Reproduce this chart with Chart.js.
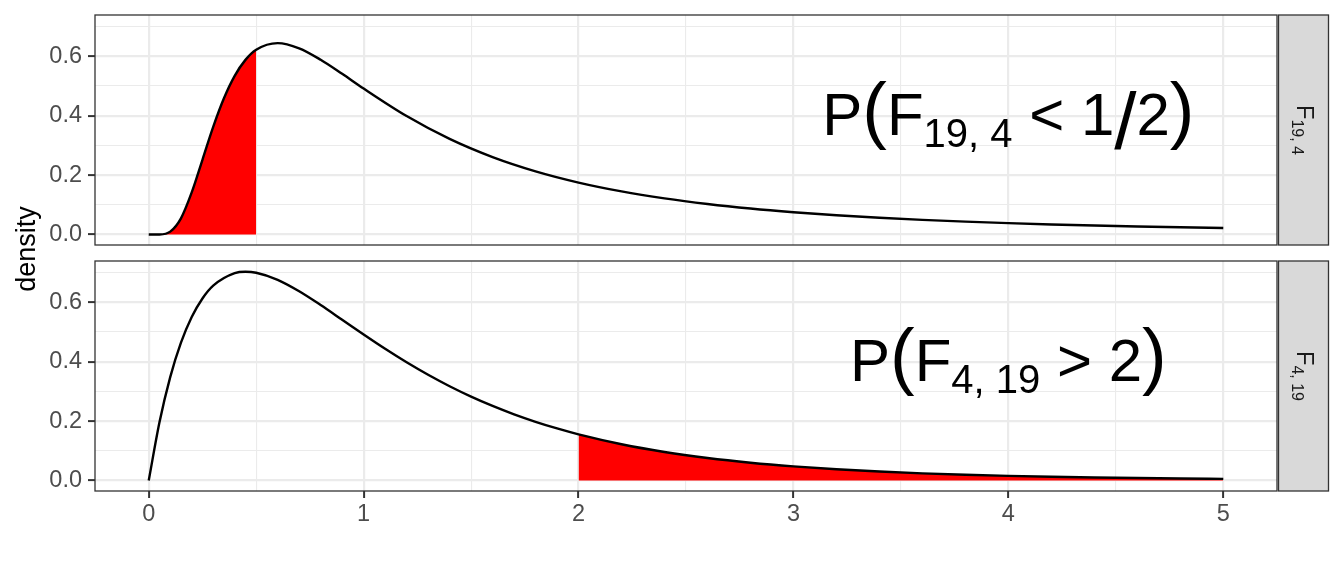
<!DOCTYPE html>
<html>
<head>
<meta charset="utf-8">
<script src="https://cdn.jsdelivr.net/npm/chart.js@4"></script>
<style>
  body { margin: 0; background: #fff; }
  #wrap { position: relative; width: 1344px; height: 576px; overflow: hidden; }
  .pane { position: absolute; left: 0; width: 1344px; }
  #ylab {
    position: absolute; left: -74px; top: 234px; width: 200px; height: 30px;
    line-height: 30px; text-align: center; transform: rotate(-90deg);
    font: 27px "Liberation Sans", Arial, sans-serif; color: #000;
  }
</style>
</head>
<body>
<div id="wrap">
  <div class="pane" style="top:0;height:250px"><canvas id="topChart" width="1344" height="250"></canvas></div>
  <div class="pane" style="top:250px;height:326px"><canvas id="botChart" width="1344" height="326"></canvas></div>
  <div id="ylab">density</div>
</div>
<script>
// axis ticks
const xTicks = [0, 1, 2, 3, 4, 5];
const xGrid = [0, 0.5, 1, 1.5, 2, 2.5, 3, 3.5, 4, 4.5, 5];
const yTicks = [0, 0.2, 0.4, 0.6];
const yGrid = [0, 0.1, 0.2, 0.3, 0.4, 0.5, 0.6, 0.7];

// F(19, 4) density
const topX = [0, 0.05, 0.1, 0.15, 0.2, 0.25, 0.3, 0.35, 0.4, 0.45, 0.5, 0.6, 0.7, 0.8, 0.9, 1.0,
  1.2, 1.4, 1.6, 1.8, 2.0, 2.2, 2.4, 2.6, 2.8, 3.0, 3.2, 3.4, 3.6, 3.8, 4.0, 4.2, 4.4, 4.6, 4.8, 5.0];
const topY = [0, 0.0002, 0.0097, 0.0546, 0.1416, 0.2516, 0.3622, 0.4584, 0.5339, 0.5877, 0.6218, 0.6442, 0.6267, 0.5882, 0.5408, 0.4913,
  0.3987, 0.3217, 0.2605, 0.2125, 0.1748, 0.1451, 0.1216, 0.1028, 0.0875, 0.0751, 0.0648, 0.0564, 0.0493, 0.0433, 0.0383, 0.0340, 0.0303, 0.0272, 0.0244, 0.0220];

// F(4, 19) density, bottom panel
const botX = [0, 0.05, 0.1, 0.15, 0.2, 0.25, 0.3, 0.4, 0.45, 0.5, 0.6, 0.7, 0.8, 0.9, 1.0, 1.1, 1.2, 1.3, 1.4, 1.5, 1.6, 1.7, 1.8, 1.9, 2.0,
  2.2, 2.4, 2.6, 2.8, 3.0, 3.2, 3.4, 3.6, 3.8, 4.0, 4.2, 4.4, 4.6, 4.8, 5.0];
const botY = [0, 0.1960, 0.3479, 0.4638, 0.5503, 0.6127, 0.6558, 0.6979, 0.7026, 0.6992, 0.6754, 0.6369, 0.5905, 0.5410, 0.4913, 0.4432, 0.3978, 0.3558, 0.3173, 0.2824, 0.2510, 0.2228, 0.1977, 0.1753, 0.1554,
  0.1222, 0.0962, 0.0759, 0.0600, 0.0476, 0.0379, 0.0302, 0.0242, 0.0195, 0.0157, 0.0127, 0.0103, 0.0084, 0.0069, 0.0057];

// shaded ranges
const topShade = [0, 0.5];
const botShade = [2, 5];

// labels: [text, role]
const topStrip = [['F', 'm'], ['19, 4', 's']];
const botStrip = [['F', 'm'], ['4, 19', 's']];
const topNote = [['P', 'm'], ['(', 'd'], ['F', 'm'], ['19, 4', 's'], [' < 1', 'm'], ['/', 'sl'], ['2', 'm'], [')', 'd']];
const botNote = [['P', 'm'], ['(', 'd'], ['F', 'm'], ['4, 19', 's'], [' > 2', 'm'], [')', 'd']];
const notePos = [4, 0.4];

const FONT = '"Liberation Sans", Arial, sans-serif';

function drawRun(ctx, parts, styles, color) {
  let total = 0;
  const w = parts.map(([t, r]) => {
    ctx.font = styles[r].size + 'px ' + FONT;
    const m = ctx.measureText(t).width;
    total += m;
    return m;
  });
  let x = -total / 2;
  ctx.fillStyle = color;
  ctx.textBaseline = 'alphabetic';
  ctx.textAlign = 'left';
  parts.forEach(([t, r], i) => {
    ctx.font = styles[r].size + 'px ' + FONT;
    ctx.fillText(t, x, styles[r].dy || 0);
    x += w[i];
  });
}

const facetPlugin = {
  id: 'facet',
  afterDraw(chart, args, opts) {
    const { ctx, chartArea: a, scales } = chart;
    ctx.save();
    // annotation
    ctx.save();
    ctx.translate(scales.x.getPixelForValue(notePos[0]), scales.y.getPixelForValue(notePos[1]) + 19);
    drawRun(ctx, opts.note, {
      m: { size: 60 }, s: { size: 40, dy: 12 }, d: { size: 74 }, sl: { size: 80, dy: 14 }
    }, '#000');
    ctx.restore();
    // panel border
    ctx.strokeStyle = '#333333';
    ctx.lineWidth = 1.3;
    ctx.strokeRect(a.left, a.top, a.right - a.left, a.bottom - a.top);
    // strip
    const sx = a.right + 1.5, sw = 50;
    ctx.fillStyle = '#D9D9D9';
    ctx.fillRect(sx, a.top, sw, a.bottom - a.top);
    ctx.strokeRect(sx, a.top, sw, a.bottom - a.top);
    ctx.translate(sx + sw / 2, (a.top + a.bottom) / 2);
    ctx.rotate(Math.PI / 2);
    ctx.translate(0, 7);
    drawRun(ctx, opts.strip, { m: { size: 23.5 }, s: { size: 16, dy: 5 } }, '#1A1A1A');
    ctx.restore();
  }
};

function makePanel(id, xs, ys, shade, strip, note, showX, pad, xHeight) {
  const pts = xs.map((x, i) => ({ x: x, y: ys[i] }));
  const shaded = pts.filter(p => p.x >= shade[0] && p.x <= shade[1]);
  const major = v => xTicks.includes(v);
  return new Chart(document.getElementById(id), {
    type: 'line',
    data: {
      datasets: [
        { data: pts, borderColor: '#000', borderWidth: 2.4, pointRadius: 0, fill: false,
          cubicInterpolationMode: 'monotone', order: 0 },
        { data: shaded, borderColor: 'rgba(0,0,0,0)', borderWidth: 0, pointRadius: 0,
          backgroundColor: '#FF0000', fill: 'origin', cubicInterpolationMode: 'monotone', order: 1 }
      ]
    },
    options: {
      responsive: false,
      animation: false,
      devicePixelRatio: 1,
      layout: { autoPadding: false, padding: pad },
      plugins: { legend: { display: false }, tooltip: { enabled: false }, facet: { strip: strip, note: note } },
      scales: {
        x: {
          type: 'linear', min: -0.25, max: 5.25,
          afterBuildTicks: s => { s.ticks = xGrid.map(v => ({ value: v })); },
          afterFit: s => { s.height = xHeight; s.paddingLeft = 0; s.paddingRight = 0; },
          border: { display: false },
          grid: {
            color: '#EBEBEB',
            lineWidth: c => major(c.tick.value) ? 2.2 : 1.1,
            drawTicks: showX, tickLength: 7, tickWidth: 2,
            tickColor: c => major(c.tick.value) ? '#333333' : 'rgba(0,0,0,0)'
          },
          ticks: {
            display: showX, autoSkip: false, maxRotation: 0, padding: 2,
            color: '#4D4D4D', font: { size: 23.5, family: FONT },
            callback: v => major(v) ? String(v) : ''
          }
        },
        y: {
          min: -0.0352, max: 0.7387,
          afterBuildTicks: s => { s.ticks = yGrid.map(v => ({ value: v })); },
          afterFit: s => { s.width = 95; s.paddingTop = 0; s.paddingBottom = 0; },
          border: { display: false },
          grid: {
            color: '#EBEBEB',
            lineWidth: c => yTicks.includes(c.tick.value) ? 2.2 : 1.1,
            tickLength: 7, tickWidth: 2,
            tickColor: c => yTicks.includes(c.tick.value) ? '#333333' : 'rgba(0,0,0,0)'
          },
          ticks: {
            autoSkip: false, padding: 6, color: '#4D4D4D', font: { size: 23.5, family: FONT },
            callback: v => yTicks.includes(v) ? v.toFixed(1) : ''
          }
        }
      }
    },
    plugins: [facetPlugin]
  });
}

makePanel('topChart', topX, topY, topShade, topStrip, topNote, false,
  { top: 15, right: 67, bottom: 5, left: 0 }, 0);
makePanel('botChart', botX, botY, botShade, botStrip, botNote, true,
  { top: 11, right: 67, bottom: 0, left: 0 }, 85);
</script>
</body>
</html>
